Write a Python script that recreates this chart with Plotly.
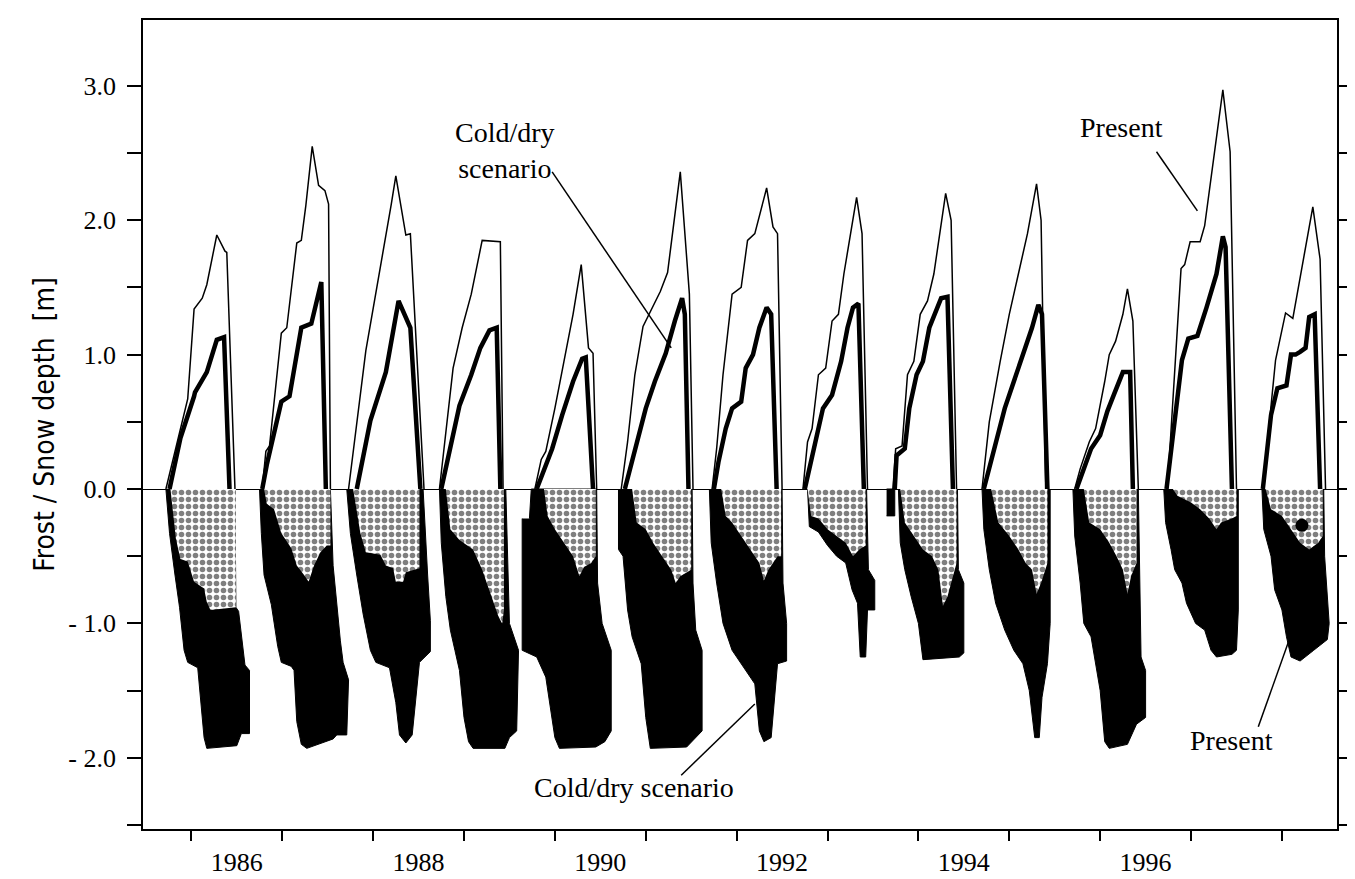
import plotly.graph_objects as go

# ---------------- data (decimal years, metres) ----------------
winters = ["1985/86", "1986/87", "1987/88", "1988/89", "1989/90", "1990/91", "1991/92",
           "1992/93", "1993/94", "1994/95", "1995/96", "1996/97", "1997/98"]

# Present snow depth (thin line)
present_snow_x = [
    [1985.72, 1985.96, 1986.03, 1986.12, 1986.17, 1986.28, 1986.37, 1986.39, 1986.48],
    [1986.78, 1986.82, 1986.86, 1986.99, 1987.05, 1987.16, 1987.21, 1987.26, 1987.33, 1987.40, 1987.47, 1987.51, 1987.53],
    [1987.73, 1987.92, 1988.20, 1988.25, 1988.36, 1988.41, 1988.56],
    [1988.73, 1988.80, 1988.88, 1988.98, 1989.08, 1989.20, 1989.40, 1989.43],
    [1989.78, 1989.85, 1989.90, 1990.00, 1990.10, 1990.20, 1990.29, 1990.37, 1990.42, 1990.46],
    [1990.73, 1990.80, 1990.88, 1990.91, 1990.97, 1991.16, 1991.24, 1991.38, 1991.48, 1991.52],
    [1991.73, 1991.78, 1991.85, 1991.95, 1992.05, 1992.12, 1992.20, 1992.33, 1992.40, 1992.45, 1992.50],
    [1992.73, 1992.78, 1992.83, 1992.90, 1992.98, 1993.05, 1993.12, 1993.18, 1993.32, 1993.38, 1993.44],
    [1993.72, 1993.75, 1993.82, 1993.88, 1993.95, 1994.02, 1994.10, 1994.17, 1994.30, 1994.36, 1994.42],
    [1994.70, 1994.78, 1994.90, 1995.00, 1995.10, 1995.20, 1995.30, 1995.35, 1995.40],
    [1995.72, 1995.78, 1995.88, 1995.95, 1996.05, 1996.10, 1996.17, 1996.25, 1996.30, 1996.36, 1996.42],
    [1996.74, 1996.83, 1996.89, 1996.93, 1996.99, 1997.10, 1997.15, 1997.35, 1997.43, 1997.50],
    [1997.79, 1997.93, 1998.04, 1998.12, 1998.34, 1998.42, 1998.48],
]
present_snow_y = [
    [0, 0.67, 1.34, 1.42, 1.52, 1.89, 1.77, 1.76, 0],
    [0, 0.28, 0.32, 1.16, 1.20, 1.83, 1.85, 2.11, 2.55, 2.26, 2.22, 2.12, 0],
    [0, 1.03, 2.12, 2.33, 1.89, 1.90, 0],
    [0, 0.40, 0.90, 1.20, 1.45, 1.85, 1.84, 0],
    [0, 0.22, 0.28, 0.60, 0.95, 1.30, 1.67, 1.05, 1.01, 0],
    [0, 0.35, 0.85, 0.96, 1.21, 1.47, 1.61, 2.36, 1.45, 0],
    [0, 0.30, 0.85, 1.45, 1.50, 1.85, 1.90, 2.24, 1.95, 1.90, 0],
    [0, 0.35, 0.45, 0.85, 0.90, 1.25, 1.30, 1.60, 2.17, 1.90, 0],
    [0, 0.30, 0.32, 0.85, 0.95, 1.30, 1.40, 1.60, 2.20, 2.00, 0],
    [0, 0.50, 0.95, 1.30, 1.60, 1.90, 2.27, 2.00, 0],
    [0, 0.15, 0.35, 0.45, 0.80, 1.00, 1.10, 1.30, 1.49, 1.25, 0],
    [0, 0.96, 1.64, 1.67, 1.84, 1.84, 1.96, 2.97, 2.51, 0],
    [0, 0.96, 1.31, 1.27, 2.10, 1.71, 0],
]

# Cold/dry scenario snow depth (thick line)
cold_snow_x = [
    [1985.76, 1985.88, 1986.03, 1986.04, 1986.17, 1986.28, 1986.36, 1986.42],
    [1986.78, 1986.83, 1986.99, 1987.08, 1987.21, 1987.32, 1987.43, 1987.48],
    [1987.82, 1987.97, 1988.14, 1988.28, 1988.41, 1988.52],
    [1988.75, 1988.85, 1988.95, 1989.08, 1989.18, 1989.28, 1989.36, 1989.40],
    [1989.80, 1989.88, 1989.97, 1990.08, 1990.20, 1990.30, 1990.34, 1990.42],
    [1990.77, 1990.88, 1991.00, 1991.10, 1991.22, 1991.32, 1991.40, 1991.43, 1991.47],
    [1991.75, 1991.80, 1991.88, 1991.95, 1992.05, 1992.10, 1992.18, 1992.25, 1992.33, 1992.38, 1992.44],
    [1992.75, 1992.85, 1992.95, 1993.05, 1993.15, 1993.22, 1993.28, 1993.34, 1993.40],
    [1993.74, 1993.76, 1993.85, 1993.90, 1993.98, 1994.05, 1994.12, 1994.25, 1994.32, 1994.38],
    [1994.72, 1994.85, 1994.95, 1995.05, 1995.15, 1995.25, 1995.32, 1995.36, 1995.42],
    [1995.74, 1995.82, 1995.90, 1996.00, 1996.08, 1996.15, 1996.25, 1996.33, 1996.36],
    [1996.73, 1996.80, 1996.86, 1996.90, 1996.97, 1997.07, 1997.17, 1997.28, 1997.35, 1997.38, 1997.45],
    [1997.79, 1997.88, 1997.95, 1998.05, 1998.10, 1998.15, 1998.20, 1998.26, 1998.30, 1998.36, 1998.42],
]
cold_snow_y = [
    [0, 0.38, 0.69, 0.72, 0.87, 1.11, 1.13, 0],
    [0, 0.18, 0.65, 0.69, 1.20, 1.23, 1.54, 0],
    [0, 0.51, 0.87, 1.40, 1.20, 0],
    [0, 0.30, 0.62, 0.85, 1.05, 1.18, 1.20, 0],
    [0, 0.15, 0.30, 0.55, 0.80, 0.97, 0.98, 0],
    [0, 0.30, 0.60, 0.80, 1.01, 1.25, 1.42, 1.30, 0],
    [0, 0.20, 0.45, 0.60, 0.65, 0.90, 1.00, 1.20, 1.35, 1.30, 0],
    [0, 0.30, 0.60, 0.70, 0.95, 1.20, 1.35, 1.38, 0],
    [0, 0.25, 0.30, 0.60, 0.85, 0.95, 1.20, 1.42, 1.43, 0],
    [0, 0.35, 0.60, 0.80, 1.00, 1.20, 1.37, 1.30, 0],
    [0, 0.15, 0.30, 0.40, 0.58, 0.70, 0.87, 0.87, 0],
    [0, 0.40, 0.75, 0.96, 1.12, 1.14, 1.35, 1.60, 1.88, 1.80, 0],
    [0, 0.55, 0.75, 0.77, 1.00, 1.00, 1.02, 1.05, 1.28, 1.30, 0],
]

# Present frost (dotted area outline)
present_frost_x = [
    [1985.77, 1985.83, 1985.88, 1985.96, 1986.03, 1986.14, 1986.17, 1986.21, 1986.49, 1986.49],
    [1986.80, 1986.83, 1986.91, 1986.99, 1987.10, 1987.16, 1987.24, 1987.29, 1987.35, 1987.42, 1987.49, 1987.53, 1987.53],
    [1987.78, 1987.86, 1987.92, 1988.08, 1988.14, 1988.22, 1988.25, 1988.33, 1988.36, 1988.51, 1988.51],
    [1988.80, 1988.85, 1988.95, 1989.10, 1989.20, 1989.30, 1989.38, 1989.42, 1989.44, 1989.44],
    [1989.88, 1989.92, 1990.00, 1990.10, 1990.20, 1990.27, 1990.32, 1990.40, 1990.45, 1990.45],
    [1990.85, 1990.90, 1991.00, 1991.08, 1991.18, 1991.28, 1991.33, 1991.38, 1991.50, 1991.50],
    [1991.83, 1991.88, 1991.95, 1992.05, 1992.15, 1992.25, 1992.30, 1992.35, 1992.45, 1992.49, 1992.49],
    [1992.78, 1992.82, 1992.90, 1993.00, 1993.10, 1993.20, 1993.28, 1993.35, 1993.42, 1993.42],
    [1993.80, 1993.85, 1993.95, 1994.05, 1994.15, 1994.22, 1994.27, 1994.32, 1994.40, 1994.42, 1994.42],
    [1994.80, 1994.88, 1995.00, 1995.10, 1995.18, 1995.25, 1995.30, 1995.35, 1995.42, 1995.42],
    [1995.82, 1995.88, 1996.00, 1996.10, 1996.18, 1996.25, 1996.30, 1996.34, 1996.40, 1996.40],
    [1996.80, 1996.85, 1997.00, 1997.10, 1997.20, 1997.28, 1997.33, 1997.45, 1997.50, 1997.50],
    [1997.82, 1997.88, 1998.00, 1998.10, 1998.20, 1998.30, 1998.40, 1998.45, 1998.45],
]
present_frost_y = [
    [0, -0.37, -0.52, -0.54, -0.69, -0.74, -0.84, -0.90, -0.88, 0],
    [0, -0.11, -0.15, -0.33, -0.44, -0.57, -0.64, -0.69, -0.57, -0.47, -0.42, -0.42, 0],
    [0, -0.33, -0.47, -0.49, -0.57, -0.59, -0.69, -0.69, -0.62, -0.59, 0],
    [0, -0.30, -0.38, -0.45, -0.60, -0.80, -0.95, -1.00, -0.90, 0],
    [0, -0.20, -0.30, -0.40, -0.50, -0.65, -0.58, -0.55, -0.50, 0],
    [0, -0.25, -0.30, -0.40, -0.50, -0.60, -0.70, -0.65, -0.60, 0],
    [0, -0.20, -0.25, -0.35, -0.45, -0.55, -0.68, -0.60, -0.50, -0.50, 0],
    [0, -0.20, -0.22, -0.30, -0.35, -0.40, -0.50, -0.45, -0.42, 0],
    [0, -0.25, -0.35, -0.45, -0.50, -0.60, -0.87, -0.80, -0.60, -0.55, 0],
    [0, -0.25, -0.35, -0.45, -0.55, -0.60, -0.78, -0.70, -0.55, 0],
    [0, -0.25, -0.30, -0.40, -0.50, -0.60, -0.78, -0.65, -0.55, 0],
    [0, -0.05, -0.10, -0.15, -0.22, -0.30, -0.25, -0.22, -0.20, 0],
    [0, -0.15, -0.20, -0.30, -0.40, -0.45, -0.40, -0.35, 0],
]

# Cold/dry scenario frost (black area outline; None separates pieces)
cold_frost_x = [
    [1985.72, 1985.76, 1985.82, 1985.87, 1985.92, 1985.96, 1986.07, 1986.10, 1986.14, 1986.17, 1986.50, 1986.55, 1986.64, 1986.64, 1986.59, 1986.52, 1986.49, 1986.48],
    [1986.75, 1986.77, 1986.80, 1986.88, 1986.95, 1986.99, 1987.10, 1987.13, 1987.16, 1987.21, 1987.27, 1987.56, 1987.60, 1987.71, 1987.73, 1987.67, 1987.64, 1987.56, 1987.53],
    [1987.71, 1987.75, 1987.82, 1987.89, 1987.97, 1988.03, 1988.18, 1988.25, 1988.29, 1988.36, 1988.43, 1988.51, 1988.63, 1988.63, 1988.60, 1988.55],
    [1988.73, 1988.75, 1988.80, 1988.85, 1988.90, 1988.95, 1989.00, 1989.05, 1989.10, 1989.45, 1989.50, 1989.58, 1989.60, 1989.55, 1989.50, 1989.46],
    [1989.64, 1989.64, 1989.80, 1989.90, 1990.00, 1990.05, 1990.45, 1990.55, 1990.62, 1990.62, 1990.52, 1990.47, 1990.46, 1989.74, 1989.72],
    [1990.70, 1990.70, 1990.75, 1990.80, 1990.85, 1990.95, 1991.00, 1991.05, 1991.45, 1991.55, 1991.62, 1991.62, 1991.55, 1991.52, 1991.51],
    [1991.70, 1991.72, 1991.78, 1991.85, 1991.95, 1992.10, 1992.20, 1992.25, 1992.30, 1992.38, 1992.42, 1992.45, 1992.55, 1992.55, 1992.51, 1992.50],
    [1992.78, 1992.80, 1992.90, 1993.00, 1993.10, 1993.20, 1993.27, 1993.33, 1993.36, 1993.42, 1993.44, 1993.52, 1993.52, 1993.45, 1993.43],
    [1993.65, 1993.74, 1993.74, 1993.65, None, 1993.78, 1993.80, 1993.85, 1993.92, 1994.00, 1994.05, 1994.45, 1994.50, 1994.50, 1994.44, 1994.43],
    [1994.70, 1994.72, 1994.78, 1994.85, 1994.95, 1995.05, 1995.15, 1995.22, 1995.28, 1995.33, 1995.36, 1995.42, 1995.45, 1995.45],
    [1995.70, 1995.72, 1995.78, 1995.82, 1995.90, 1995.95, 1996.00, 1996.05, 1996.10, 1996.30, 1996.40, 1996.50, 1996.50, 1996.45, 1996.42],
    [1996.70, 1996.72, 1996.78, 1996.82, 1996.90, 1996.95, 1997.05, 1997.15, 1997.22, 1997.28, 1997.45, 1997.50, 1997.52, 1997.52],
    [1997.78, 1997.80, 1997.88, 1997.92, 1998.00, 1998.05, 1998.10, 1998.20, 1998.35, 1998.50, 1998.52, 1998.47, 1998.46],
]
cold_frost_y = [
    [0, -0.33, -0.64, -0.88, -1.20, -1.29, -1.33, -1.53, -1.85, -1.93, -1.91, -1.82, -1.82, -1.35, -1.31, -0.91, -0.88, 0],
    [0, -0.33, -0.64, -0.86, -1.17, -1.29, -1.32, -1.35, -1.73, -1.90, -1.93, -1.86, -1.83, -1.83, -1.42, -1.29, -1.13, -0.57, 0],
    [0, -0.33, -0.64, -0.93, -1.20, -1.29, -1.33, -1.59, -1.83, -1.89, -1.83, -1.29, -1.21, -0.98, -0.64, 0],
    [0, -0.40, -0.80, -1.05, -1.20, -1.35, -1.70, -1.88, -1.93, -1.93, -1.85, -1.80, -1.20, -1.10, -1.00, 0],
    [-0.22, -1.20, -1.25, -1.40, -1.85, -1.93, -1.92, -1.88, -1.80, -1.20, -1.00, -0.70, 0, 0, -0.22],
    [0, -0.45, -0.50, -0.90, -1.10, -1.30, -1.70, -1.93, -1.92, -1.85, -1.80, -1.20, -1.05, -0.70, 0],
    [0, -0.40, -0.70, -1.00, -1.20, -1.35, -1.45, -1.80, -1.88, -1.85, -1.50, -1.30, -1.28, -1.00, -0.70, 0],
    [0, -0.28, -0.32, -0.42, -0.50, -0.55, -0.75, -0.85, -1.25, -1.25, -0.90, -0.90, -0.68, -0.60, 0],
    [0, 0, -0.20, -0.20, None, 0, -0.40, -0.60, -0.80, -1.00, -1.27, -1.25, -1.22, -0.70, -0.60, 0],
    [0, -0.30, -0.60, -0.85, -1.05, -1.20, -1.30, -1.50, -1.85, -1.85, -1.55, -1.30, -1.00, 0],
    [0, -0.35, -0.70, -1.00, -1.10, -1.30, -1.50, -1.88, -1.93, -1.90, -1.75, -1.70, -1.35, -1.25, 0],
    [0, -0.25, -0.45, -0.60, -0.70, -0.85, -1.00, -1.05, -1.20, -1.25, -1.23, -1.20, -0.90, 0],
    [0, -0.30, -0.50, -0.75, -0.90, -1.10, -1.25, -1.28, -1.20, -1.12, -1.00, -0.50, 0],
]

# unfrozen pocket (black dot) in the 1997/98 present frost
dot_x = [1998.22]
dot_y = [-0.27]

# axes
year_labels = ["1986", "1988", "1990", "1992", "1994", "1996"]
year_label_pos = [1986.5, 1988.5, 1990.5, 1992.5, 1994.5, 1996.5]
year_ticks = list(range(1986, 1999))
y_ticks = [-2, -1, 0, 1, 2, 3]
y_ticktext = ["- 2.0", "- 1.0", "0.0", "1.0", "2.0", "3.0"]
y_minor = [-2.5, -1.5, -0.5, 0.5, 1.5, 2.5]

# ---------------- figure ----------------
fig = go.Figure()
for i in range(len(winters)):
    fig.add_trace(go.Scatter(
        x=cold_frost_x[i], y=cold_frost_y[i], mode="lines", fill="toself",
        fillcolor="black", line=dict(color="black", width=1),
        hoverinfo="skip", showlegend=False, connectgaps=False))
    fig.add_trace(go.Scatter(
        x=present_frost_x[i], y=present_frost_y[i], mode="lines", fill="toself",
        fillcolor="white", line=dict(width=0, color="white"),
        fillpattern=dict(shape=".", fgcolor="black", bgcolor="white", size=7, solidity=0.5),
        hoverinfo="skip", showlegend=False))
for i in range(len(winters)):
    fig.add_trace(go.Scatter(
        x=present_snow_x[i], y=present_snow_y[i], mode="lines",
        line=dict(color="black", width=1.5), showlegend=False, name="Present " + winters[i]))
    fig.add_trace(go.Scatter(
        x=cold_snow_x[i], y=cold_snow_y[i], mode="lines",
        line=dict(color="black", width=4.5), showlegend=False, name="Cold/dry " + winters[i]))
fig.add_trace(go.Scatter(x=dot_x, y=dot_y, mode="markers",
                         marker=dict(color="black", size=13), showlegend=False))

serif = "Liberation Serif, Times New Roman, serif"
# trailing no-break spaces shift the rotated title a little below the axis centre
y_title = "Frost / Snow depth  [m]" + "\u00a0" * 20
fig.update_layout(
    width=1355, height=879,
    margin=dict(l=135, r=10, t=12, b=39),
    plot_bgcolor="white", paper_bgcolor="white",
    font=dict(family=serif, size=26, color="black"),
    xaxis=dict(range=[1985.468, 1998.606], showgrid=False, zeroline=False,
               showline=True, linecolor="black", linewidth=1.6, mirror=True,
               tickvals=year_label_pos, ticktext=year_labels,
               ticks="outside", ticklen=9, tickcolor="rgba(0,0,0,0)",
               minor=dict(tickvals=year_ticks, ticks="outside", ticklen=10,
                          tickcolor="black", tickwidth=1.5),
               tickfont=dict(family=serif, size=26)),
    yaxis=dict(range=[-2.53, 3.49], showgrid=False,
               zeroline=True, zerolinecolor="black", zerolinewidth=1.4,
               showline=True, linecolor="black", linewidth=1.6, mirror="ticks",
               tickvals=y_ticks, ticktext=y_ticktext,
               ticks="outside", ticklen=14, tickwidth=1.5, tickcolor="black",
               minor=dict(tickvals=y_minor, ticks="outside", ticklen=14,
                          tickcolor="black", tickwidth=1.5),
               ticklabelstandoff=6,
               tickfont=dict(family=serif, size=26),
               title=dict(text=y_title, standoff=6,
                          font=dict(family="Liberation Sans Narrow, DejaVu Sans Condensed, Arial Narrow, sans-serif",
                                    size=28))),
)

ann_font = dict(family=serif, size=28, color="black")
fig.add_annotation(text="Cold/dry<br>scenario", x=1989.45, y=2.52, showarrow=False,
                   align="center", font=ann_font)
fig.add_annotation(text="Present", x=1996.23, y=2.69, showarrow=False, font=ann_font)
fig.add_annotation(text="Cold/dry scenario", x=1990.87, y=-2.22, showarrow=False, font=ann_font)
fig.add_annotation(text="Present", x=1997.44, y=-1.87, showarrow=False, font=ann_font)

for (x0, y0, x1, y1) in [(1989.97, 2.36, 1991.28, 1.05),
                         (1996.62, 2.51, 1997.07, 2.07),
                         (1991.39, -2.13, 1992.2, -1.6),
                         (1997.74, -1.77, 1998.17, -0.95)]:
    fig.add_shape(type="line", x0=x0, y0=y0, x1=x1, y1=y1, xref="x", yref="y",
                  line=dict(color="black", width=1.5))

fig.write_html("out.html")
